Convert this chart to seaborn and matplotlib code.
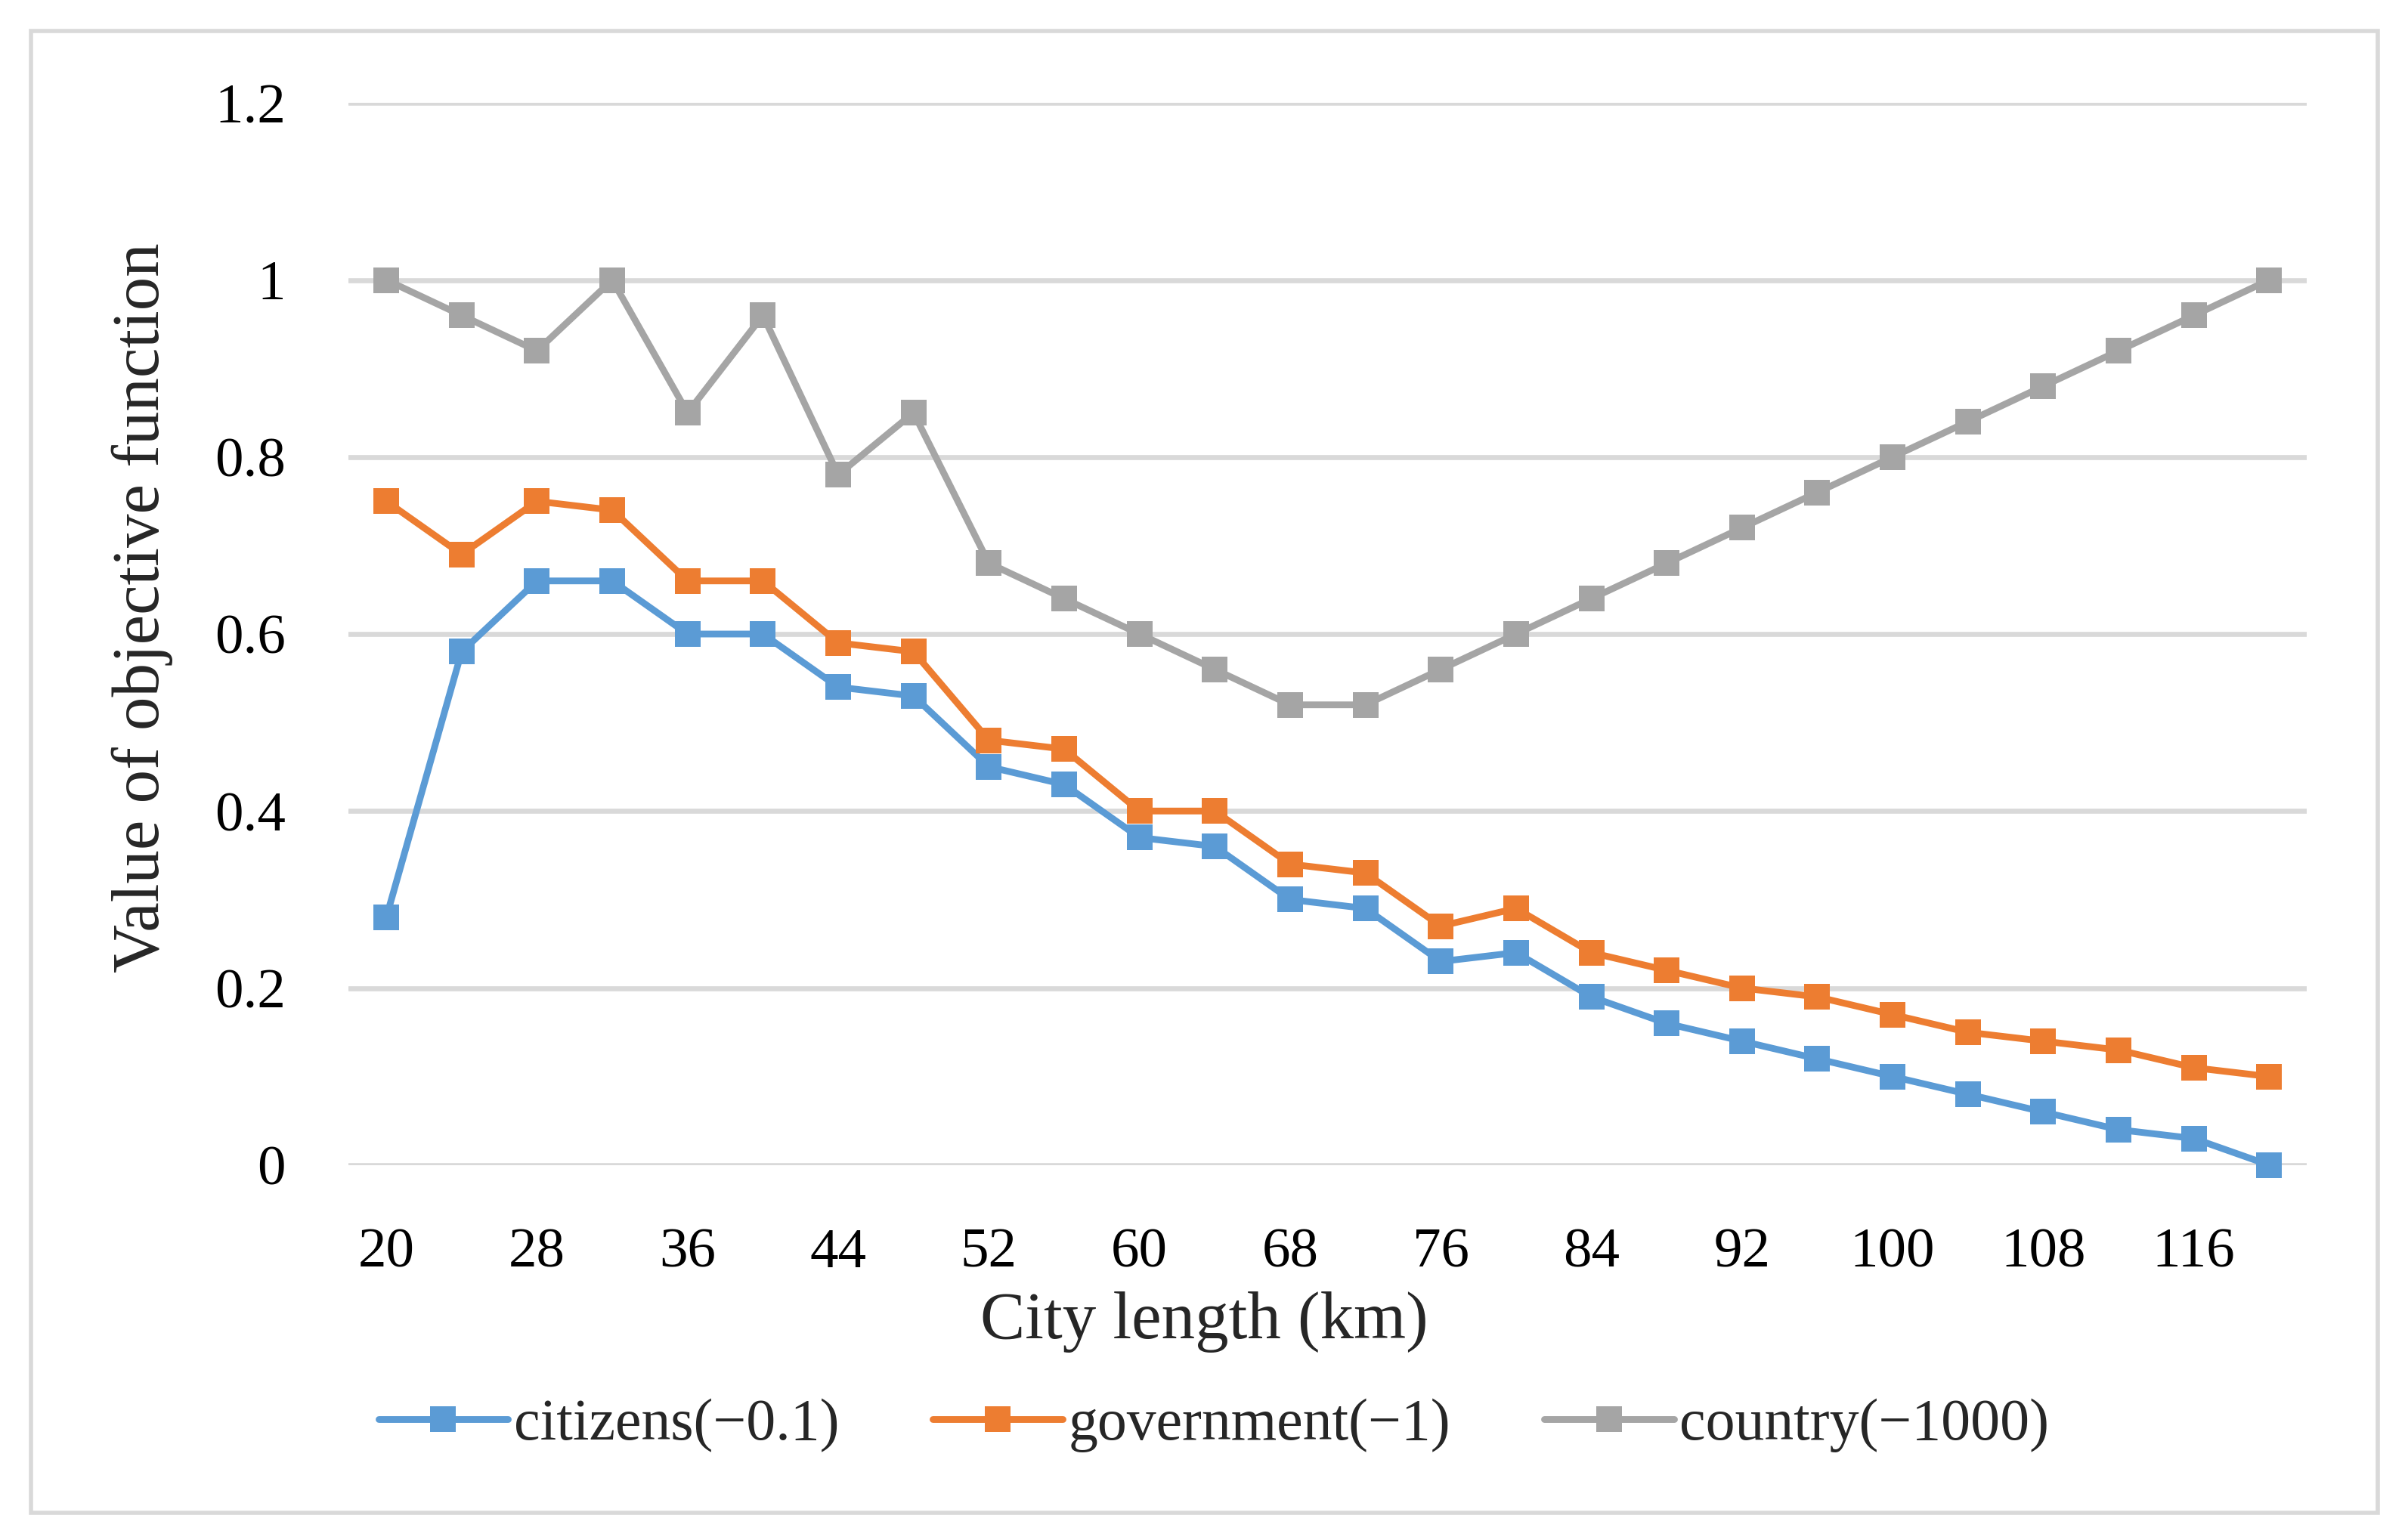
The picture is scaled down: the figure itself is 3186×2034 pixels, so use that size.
import matplotlib
matplotlib.use("Agg")
import matplotlib.pyplot as plt
import seaborn as sns
import pandas as pd
import numpy as np
from matplotlib.patches import Rectangle

city_length = [20, 24, 28, 32, 36, 40, 44, 48, 52, 56, 60, 64, 68, 72, 76, 80,
               84, 88, 92, 96, 100, 104, 108, 112, 116, 120]
citizens = [0.28, 0.58, 0.66, 0.66, 0.60, 0.60, 0.54, 0.53, 0.45, 0.43, 0.37, 0.36,
            0.30, 0.29, 0.23, 0.24, 0.19, 0.16, 0.14, 0.12, 0.10, 0.08, 0.06, 0.04,
            0.03, 0.00]
government = [0.75, 0.69, 0.75, 0.74, 0.66, 0.66, 0.59, 0.58, 0.48, 0.47, 0.40, 0.40,
              0.34, 0.33, 0.27, 0.29, 0.24, 0.22, 0.20, 0.19, 0.17, 0.15, 0.14, 0.13,
              0.11, 0.10]
country = [1.00, 0.96, 0.92, 1.00, 0.85, 0.96, 0.78, 0.85, 0.68, 0.64, 0.60, 0.56,
           0.52, 0.52, 0.56, 0.60, 0.64, 0.68, 0.72, 0.76, 0.80, 0.84, 0.88, 0.92,
           0.96, 1.00]
series_names = ["citizens(\u22120.1)", "government(\u22121)", "country(\u22121000)"]
colors = ["#5B9BD5", "#ED7D31", "#A5A5A5"]
y_ticks = [0, 0.2, 0.4, 0.6, 0.8, 1.0, 1.2]
y_tick_labels = ["0", "0.2", "0.4", "0.6", "0.8", "1", "1.2"]

sns.set_style("white")
plt.rcParams['font.family'] = ['Liberation Serif', 'DejaVu Serif']

idx = list(range(len(city_length)))
df = pd.concat([
    pd.DataFrame({"idx": idx, "value": vals, "series": name})
    for name, vals in zip(series_names, [citizens, government, country])
])

ax_left, ax_right = 0.1448, 0.958
fig = plt.figure(figsize=(15.93, 10.17), dpi=200)
ax = fig.add_axes([ax_left, 0.242, ax_right - ax_left, 0.933 - 0.242])

sns.lineplot(data=df, x="idx", y="value", hue="series", palette=colors,
             marker="s", markersize=12, markeredgewidth=0, linewidth=3.2,
             ax=ax, legend=True, zorder=3)

ax.set_xlim(-0.5, len(city_length) - 0.5)
ax.set_ylim(0, 1.2)
ax.set_yticks(y_ticks)
ax.set_yticklabels(y_tick_labels)
ax.set_xticks(idx[::2])
ax.set_xticklabels([str(c) for c in city_length[::2]])
ax.tick_params(axis="both", length=0, labelsize=27, colors="black")
ax.tick_params(axis="x", pad=30)
ax.tick_params(axis="y", pad=30)
ax.grid(axis="y", color="#D9D9D9", linewidth=2.4)
ax.set_axisbelow(True)
for s in ax.spines.values():
    s.set_visible(False)
for line in ax.lines:
    line.set_clip_on(False)

# centre of the figure expressed in axes coordinates
fig_center_ax = (0.5 - ax_left) / (ax_right - ax_left)

ax.set_xlabel("City length (km)", fontsize=32, labelpad=6)
ax.xaxis.label.set_x(fig_center_ax)
ax.set_ylabel("Value of objective function", fontsize=32, labelpad=20)
ax.yaxis.label.set_y(0.525)

handles, labels = ax.get_legend_handles_labels()
leg = ax.legend(handles, labels, loc="upper center",
                bbox_to_anchor=(fig_center_ax + 0.005, -0.17),
                ncol=3, frameon=False, fontsize=28, handlelength=2.2,
                handletextpad=0.1, columnspacing=1.6)

fig.add_artist(Rectangle((41 / 3186, 1 - 2002 / 2034), (3146 - 41) / 3186,
                         (2002 - 41) / 2034, transform=fig.transFigure,
                         fill=False, edgecolor="#D9D9D9", linewidth=2))

fig.savefig("out.png", dpi=200)
